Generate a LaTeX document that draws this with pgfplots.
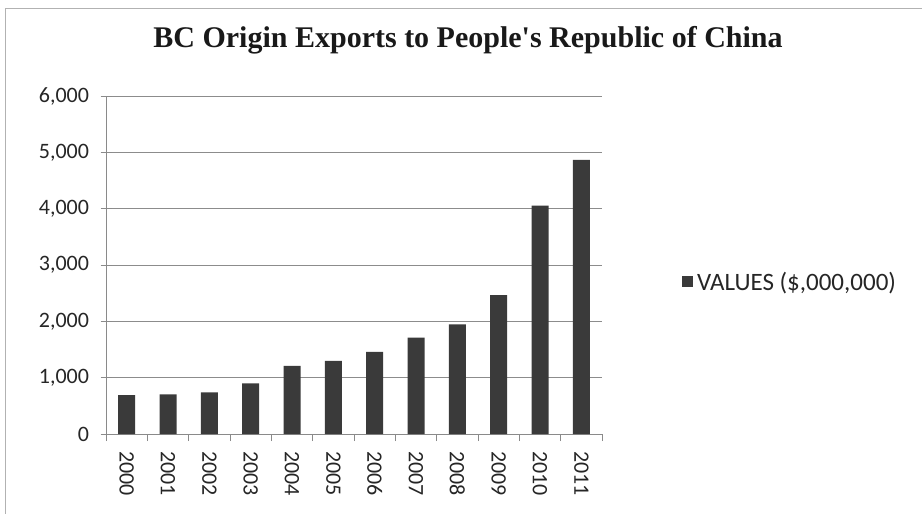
\documentclass[border=0pt]{standalone}
\usepackage{fontspec}
\setmainfont{Carlito}
\newfontfamily\titlefont{Liberation Serif}
\usepackage{pgfplots}
\pgfplotsset{compat=1.18}
\definecolor{barc}{HTML}{3A3A3A}
\definecolor{gridc}{HTML}{8C8C8C}
\definecolor{axc}{HTML}{8A8A8A}
\begin{document}
\begin{tikzpicture}
\path[use as bounding box] (0pt,0pt) rectangle (922pt,-514pt);
\draw[gray!60, line width=1pt] (5pt,-514pt) -- (5pt,-8pt) -- (922pt,-8pt);
\node[font=\titlefont\bfseries\fontsize{30}{36}\selectfont, text=black!90] at (468pt,-40pt) {BC Origin Exports to People's Republic of China};
\begin{axis}[
  at={(106pt,-434pt)}, anchor=south west,
  width=496pt, height=338pt, scale only axis,
  ybar, bar width=17pt,
  xmin=-0.5, xmax=11.5,
  ymin=0, ymax=6000,
  ytick={0,1000,...,6000},
  scaled y ticks=false,
  xtick={0,...,11},
  xticklabels={2000,2001,2002,2003,2004,2005,2006,2007,2008,2009,2010,2011},
  minor xtick={-0.5,0.5,...,11.5},
  axis x line*=bottom, axis y line*=left,
  axis line style={axc, line width=1pt, -},
  ymajorgrids, grid style={gridc, line width=1pt},
  tick align=center,
  major tick length=11pt,
  minor tick length=7pt,
  tick style={axc, line width=1pt},
  minor tick style={yshift=-3.5pt},
  x tick style={draw=none},
  minor x tick style={draw=axc},
  yticklabel style={font=\fontsize{22}{26}\selectfont, text=black!85, xshift=-8pt},
  xticklabel style={font=\fontsize{22}{26}\selectfont, text=black!85, rotate=-90, anchor=west, xshift=8pt},
  legend style={at={(rel axis cs:1.155,0.45)}, anchor=west, draw=none, fill=none,
    font=\fontsize{25}{30}\selectfont, text=black!85,
    nodes={inner xsep=4pt}},
  legend image code/.code={\fill[barc] (0pt,-5.5pt) rectangle (11pt,5.5pt);},
  /pgf/number format/.cd, 1000 sep={,}, assume math mode=true
]
\addplot[fill=barc, draw=none] coordinates {
 (0,690) (1,705) (2,740) (3,900) (4,1210) (5,1300) (6,1460) (7,1710) (8,1945) (9,2465) (10,4055) (11,4865)};
\addlegendentry{VALUES (\$,000,000)}
\end{axis}
\end{tikzpicture}
\end{document}
